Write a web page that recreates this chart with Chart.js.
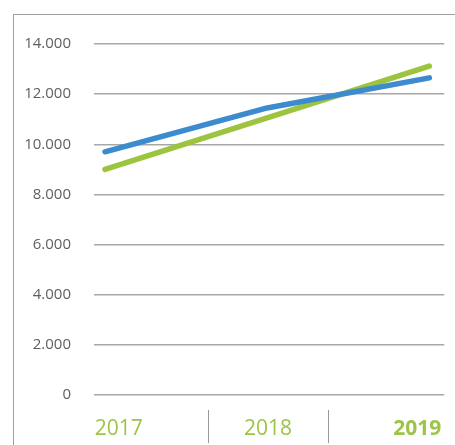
<!DOCTYPE html>
<html>
<head>
<meta charset="utf-8">
<style>
  html, body { margin: 0; padding: 0; background: #fff; }
  #wrap { position: relative; width: 455px; height: 445px; overflow: hidden; }
  #frame { position: absolute; left: 13px; top: 14px; width: 460px; height: 460px;
           border-top: 1px solid #a0a0a0; border-left: 1px solid #a0a0a0; }
  canvas { position: absolute; left: 0; top: 0; }
</style>
<script src="https://cdn.jsdelivr.net/npm/chart.js@4.4.1/dist/chart.umd.min.js"></script>
</head>
<body>
<div id="wrap">
  <div id="frame"></div>
  <canvas id="c" width="455" height="445"></canvas>
</div>
<script>
// Yearly values for the two series
const years = ['2017', '2018', '2019'];
const blueSeries = [9700, 11450, 12650];
const greenSeries = [9000, 11050, 13120];
const yTicks = [0, 2000, 4000, 6000, 8000, 10000, 12000, 14000];

// Year captions sit in table-like columns below the plot
const yearLabelPos = [0.085, 1.005, 1.925];
const columnDividers = [0.632, 1.378];

const xMin = -0.068, xMax = 2.092;
const green = '#9cc447';

const fmt = v => v.toLocaleString('de-DE');

const dividerPlugin = {
  id: 'dividers',
  afterDraw(chart) {
    const sx = chart.scales.x;
    const ctx = chart.ctx;
    ctx.save();
    ctx.strokeStyle = '#9a9a9a';
    ctx.lineWidth = 1;
    columnDividers.forEach(v => {
      const px = Math.round(sx.getPixelForValue(v)) + 0.5;
      ctx.beginPath();
      ctx.moveTo(px, chart.chartArea.bottom + 15);
      ctx.lineTo(px, chart.chartArea.bottom + 48);
      ctx.stroke();
    });
    ctx.restore();
  }
};

const toPoints = arr => arr.map((v, i) => ({ x: i, y: v }));

new Chart(document.getElementById('c'), {
  type: 'line',
  data: {
    datasets: [
      { data: toPoints(blueSeries), borderColor: '#3d8bcf', borderWidth: 5.5,
        pointRadius: 0, borderCapStyle: 'round', borderJoinStyle: 'round', tension: 0 },
      { data: toPoints(greenSeries), borderColor: '#9dc43f', borderWidth: 5.5,
        pointRadius: 0, borderCapStyle: 'round', borderJoinStyle: 'round', tension: 0 }
    ]
  },
  options: {
    responsive: false,
    animation: false,
    layout: { padding: { left: 26, top: 44, right: 10, bottom: 0 } },
    plugins: { legend: { display: false }, tooltip: { enabled: false } },
    scales: {
      x: {
        type: 'linear', min: xMin, max: xMax, display: false
      },
      xl: {
        type: 'linear', position: 'bottom', min: xMin, max: xMax,
        afterBuildTicks: s => { s.ticks = yearLabelPos.map(v => ({ value: v })); },
        afterFit: s => { s.height = 50; },
        border: { display: false },
        grid: { display: false },
        ticks: {
          padding: 13,
          maxRotation: 0,
          autoSkip: false,
          color: green,
          callback: (v, i) => years[i],
          font: ctx => ({
            family: "'Liberation Sans Narrow', 'Open Sans', sans-serif",
            size: 21,
            weight: ctx.index === years.length - 1 ? 'bold' : 'normal'
          })
        }
      },
      y: {
        min: 0, max: 14000,
        afterBuildTicks: s => { s.ticks = yTicks.map(v => ({ value: v })); },
        afterFit: s => { s.width = 68; },
        border: { display: false },
        grid: { color: '#a8a8a8', lineWidth: 1.5, drawTicks: false },
        ticks: {
          padding: 23,
          color: '#5f5f5f',
          font: { family: "'Open Sans', sans-serif", size: 15 },
          callback: v => fmt(v)
        }
      }
    }
  },
  plugins: [dividerPlugin]
});
</script>
</body>
</html>
